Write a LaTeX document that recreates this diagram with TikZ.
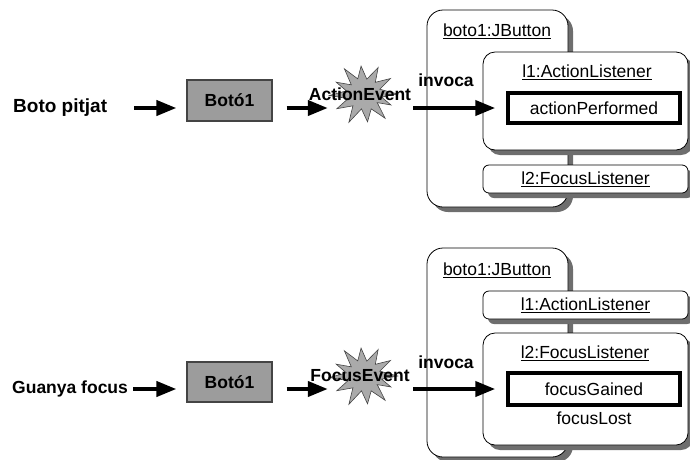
\documentclass[tikz,border=0pt]{standalone}
\usepackage{fontspec}
\setmainfont{Liberation Sans}
\usetikzlibrary{arrows.meta,calc,shadows}
\definecolor{shadowgray}{HTML}{6E6E6E}
\definecolor{boxgray}{HTML}{9C9C9C}
\definecolor{stargray}{HTML}{AAAAAA}
\definecolor{edgegray}{HTML}{444444}
\begin{document}
\begin{tikzpicture}[x=1pt,y=-1pt,
  font=\fontsize{17.5}{21}\selectfont,
  txt/.style={inner sep=0pt},
  btxt/.style={inner sep=0pt,font=\fontsize{17.5}{21}\selectfont\bfseries},
  objbox/.style={draw=black, fill=white, line width=0.8pt, inner sep=0pt,
     rounded corners=#1,
     drop shadow={opacity=1, fill=shadowgray, shadow xshift=5pt, shadow yshift=-5pt}},
  methbox/.style={draw=black, fill=white, line width=3.5pt, inner sep=0pt},
  btnbox/.style={draw=edgegray, fill=boxgray, line width=1.2pt, inner sep=0pt,
     minimum width=85pt, minimum height=41pt},
  burst/.style={draw=edgegray, fill=stargray, line width=0.6pt},
  arr/.style={line width=4pt, -{Triangle[length=20pt,width=15pt]}}
]
\useasboundingbox (0,0) rectangle (690,459);

% ---------------- top row ----------------
\node[objbox=16pt, minimum width=141pt, minimum height=197pt] (jb1) at (497.5,108.5) {};
\node[txt] (jb1t) at (497,31) {\underline{boto1:JButton}};
\node[objbox=12pt, minimum width=205pt, minimum height=98pt] (al1) at (585.5,101) {};
\node[txt] (al1t) at (587,72) {\underline{l1:ActionListener}};
\node[methbox, minimum width=172pt, minimum height=30pt] (ap) at (594,108) {actionPerformed};
\node[objbox=6pt, minimum width=205pt, minimum height=28pt] (fl1) at (585.5,179) {\underline{l2:FocusListener}};

\node[btxt, anchor=west, font=\fontsize{19}{22}\selectfont\bfseries] (bp) at (13,108) {Boto pitjat};
\node[btnbox] (b1) at (229.5,100.5) {\bfseries Botó1};
\node[inner sep=0pt, minimum width=68pt, minimum height=55pt] (ev1) at (364,94) {};
\begin{scope}[shift={(364,94)}, xscale=1.2]
\draw[burst] (0:28) -- (12:15) -- (26:25) -- (38:14) -- (54:30) -- (68:16) -- (84:28)
  -- (98:15) -- (114:31) -- (128:15) -- (147:27) -- (161:14) -- (177:29) -- (192:15)
  -- (207:26) -- (221:14) -- (237:30) -- (251:16) -- (265:28) -- (279:15) -- (294:29)
  -- (309:15) -- (325:27) -- (340:14) -- cycle;
\end{scope}
\node[btxt] (ae) at (360,94) {ActionEvent};
\node[btxt] (inv1) at (446,80) {invoca};

\coordinate (s1) at (134,108);
\draw[arr, shorten >=10pt] (s1) -- (b1.west |- s1);
\draw[arr, shorten <=14pt, shorten >=2pt] (b1.east |- s1) -- (ev1.west |- s1);
\draw[arr, shorten <=15pt, shorten >=11pt] (ev1.east |- ap.west) -- (ap.west);

% ---------------- bottom row ----------------
\node[objbox=16pt, minimum width=141pt, minimum height=209pt] (jb2) at (497.5,352.5) {};
\node[txt] (jb2t) at (497,270) {\underline{boto1:JButton}};
\node[objbox=6pt, minimum width=205pt, minimum height=28pt] (al2) at (585.5,305) {\underline{l1:ActionListener}};
\node[objbox=12pt, minimum width=205pt, minimum height=112pt] (fl2) at (585.5,389) {};
\node[txt] (fl2t) at (585,353) {\underline{l2:FocusListener}};
\node[methbox, minimum width=172pt, minimum height=32pt] (fg) at (594,389) {focusGained};
\node[txt] (flost) at (594,418) {focusLost};

\node[btxt, anchor=west] (gf) at (12,389) {Guanya focus};
\node[btnbox, minimum height=40pt] (b2) at (229.5,382) {\bfseries Botó1};
\node[inner sep=0pt, minimum width=68pt, minimum height=55pt] (ev2) at (364,376) {};
\begin{scope}[shift={(364,376)}, xscale=1.2]
\draw[burst] (0:28) -- (12:15) -- (26:25) -- (38:14) -- (54:30) -- (68:16) -- (84:28)
  -- (98:15) -- (114:31) -- (128:15) -- (147:27) -- (161:14) -- (177:29) -- (192:15)
  -- (207:26) -- (221:14) -- (237:30) -- (251:16) -- (265:28) -- (279:15) -- (294:29)
  -- (309:15) -- (325:27) -- (340:14) -- cycle;
\end{scope}
\node[btxt] (fe) at (360,376) {FocusEvent};
\node[btxt] (inv2) at (446,362) {invoca};

\coordinate (s2) at (133,389);
\draw[arr, shorten >=10pt] (s2) -- (b2.west |- s2);
\draw[arr, shorten <=14pt, shorten >=2pt] (b2.east |- s2) -- (ev2.west |- s2);
\draw[arr, shorten <=15pt, shorten >=11pt] (ev2.east |- fg.west) -- (fg.west);
\end{tikzpicture}
\end{document}
